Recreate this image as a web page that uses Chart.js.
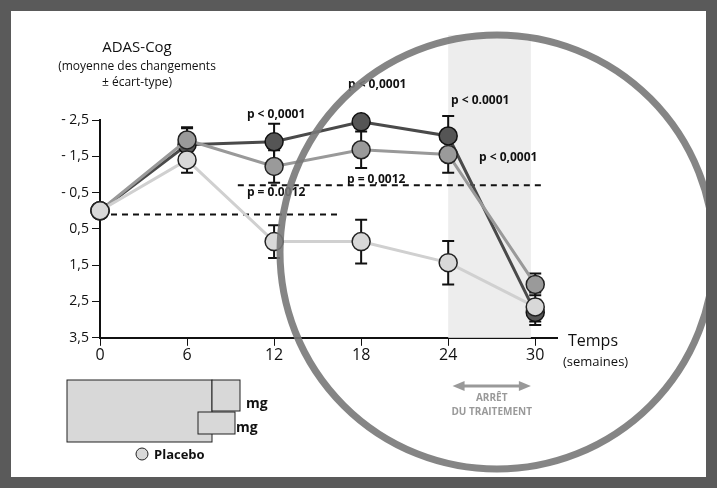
<!DOCTYPE html>
<html><head><meta charset="utf-8">
<script src="https://cdn.jsdelivr.net/npm/chart.js@4/dist/chart.umd.min.js"></script>
<style>
html,body{margin:0;padding:0;background:#5a5a5a}
#wrap{position:absolute;left:11px;top:11px;width:695px;height:466px;background:#fff}
canvas{display:block}
</style></head><body>
<div id="wrap"><canvas id="chart" width="695" height="466"></canvas></div>
<script>
const weeks = [0, 6, 12, 18, 24, 30]
const xTicks = [0, 6, 12, 18, 24, 30]
const yTicks = [-2.5, -1.5, -0.5, 0.5, 1.5, 2.5, 3.5]
const yTickLabels = ['- 2,5', '- 1,5', '- 0,5', '0,5', '1,5', '2,5', '3,5']
const doseHigh = [0, -1.82, -1.9, -2.45, -2.06, 2.8]
const doseHighErr = [0, 0.45, 0.5, 0, 0.55, 0.35]
const doseLow = [0, -1.95, -1.22, -1.68, -1.55, 2.03]
const doseLowErr = [0, 0.35, 0.45, 0.5, 0.5, 0.3]
const placebo = [0, -1.4, 0.85, 0.85, 1.43, 2.65]
const placeboErr = [0, 0.35, 0.45, 0.6, 0.6, 0.4]

const O = 11 // offset of canvas in page
const chartPlugin = {
    id: 'extras',
    beforeDatasetsDraw(chart) {
        const c = chart.ctx, x = chart.scales.x, y = chart.scales.y
        // shaded stop period
        c.save()
        c.fillStyle = '#ededed'
        c.fillRect(x.getPixelForValue(24), 35 - O, x.getPixelForValue(29.7) - x.getPixelForValue(24), y.bottom - 35 + O)
        // dashed reference lines
        c.strokeStyle = '#111'; c.lineWidth = 2; c.setLineDash([6, 5])
        c.beginPath()
        c.moveTo(x.getPixelForValue(0), y.getPixelForValue(0.1)); c.lineTo(x.getPixelForValue(16.5), y.getPixelForValue(0.1))
        c.moveTo(x.getPixelForValue(9.5), y.getPixelForValue(-0.7)); c.lineTo(x.getPixelForValue(30.5), y.getPixelForValue(-0.7))
        c.stroke()
        c.setLineDash([])
        // error bars
        c.strokeStyle = '#111'; c.lineWidth = 2
        chart.data.datasets.forEach(ds => {
            ds.data.forEach((p, j) => {
                const e = ds.err[j]
                if (!e) return
                const px = x.getPixelForValue(p.x)
                const t = y.getPixelForValue(p.y - e), b = y.getPixelForValue(p.y + e)
                c.beginPath()
                c.moveTo(px, t); c.lineTo(px, b)
                c.moveTo(px - 6, t); c.lineTo(px + 6, t)
                c.moveTo(px - 6, b); c.lineTo(px + 6, b)
                c.stroke()
            })
        })
        c.restore()
    },
    afterDraw(chart) {
        const c = chart.ctx, x = chart.scales.x, y = chart.scales.y
        c.save()
        c.fillStyle = '#111'
        c.textAlign = 'center'
        c.font = '15px "Open Sans"'
        c.fillText('ADAS-Cog', 137 - O, 52 - O)
        c.font = '12px "Open Sans"'
        c.fillText('(moyenne des changements', 137 - O, 70 - O)
        c.fillText('± écart-type)', 137 - O, 86 - O)
        c.font = 'bold 12px "Open Sans"'
        c.fillText('p < 0,0001', x.getPixelForValue(12) + 2, 118 - O)
        c.fillText('p < 0,0001', x.getPixelForValue(18) + 16, 88 - O)
        c.fillText('p < 0.0001', x.getPixelForValue(24) + 32, 104 - O)
        c.fillText('p < 0,0001', x.getPixelForValue(24) + 60, 161 - O)
        c.fillText('p = 0.0012', x.getPixelForValue(12) + 2, 196 - O)
        c.fillText('p = 0,0012', x.getPixelForValue(18) + 15, 183 - O)
        // x axis title
        c.textAlign = 'left'
        c.font = '16px "Open Sans"'
        c.fillText('Temps', 568 - O, 346 - O)
        c.font = '13px "Open Sans"'
        c.fillText('(semaines)', 563 - O, 366 - O)
        // stop-of-treatment arrow
        const a = x.getPixelForValue(24.3), b = x.getPixelForValue(29.7), ay = 386 - O
        c.strokeStyle = '#999'; c.fillStyle = '#999'; c.lineWidth = 3
        c.beginPath(); c.moveTo(a + 8, ay); c.lineTo(b - 8, ay); c.stroke()
        c.beginPath(); c.moveTo(a, ay); c.lineTo(a + 12, ay - 5); c.lineTo(a + 12, ay + 5); c.fill()
        c.beginPath(); c.moveTo(b, ay); c.lineTo(b - 12, ay - 5); c.lineTo(b - 12, ay + 5); c.fill()
        c.textAlign = 'center'
        c.font = 'bold 10px "Open Sans"'
        c.fillText('ARRÊT', (a + b) / 2, 401 - O)
        c.fillText('DU TRAITEMENT', (a + b) / 2, 415 - O)
        // legend boxes
        c.fillStyle = '#d8d8d8'; c.strokeStyle = '#222'; c.lineWidth = 1
        c.fillRect(67 - O, 380 - O, 145, 62); c.strokeRect(67 - O, 380 - O, 145, 62)
        c.fillRect(212 - O, 380 - O, 28, 31); c.strokeRect(212 - O, 380 - O, 28, 31)
        c.fillRect(198 - O, 412 - O, 37, 22); c.strokeRect(198 - O, 412 - O, 37, 22)
        c.fillStyle = '#111'; c.textAlign = 'left'
        c.font = 'bold 14px "Open Sans"'
        c.fillText('mg', 246 - O, 408 - O)
        c.fillText('mg', 236 - O, 432 - O)
        c.beginPath(); c.arc(142 - O, 454 - O, 6, 0, 7)
        c.fillStyle = '#d8d8d8'; c.fill(); c.stroke()
        c.fillStyle = '#111'; c.font = 'bold 13px "Open Sans"'
        c.fillText('Placebo', 154 - O, 459 - O)
        // magnifier circle
        c.strokeStyle = 'rgba(120,120,120,0.9)'; c.lineWidth = 7
        c.beginPath(); c.arc(497 - O, 252 - O, 217, 0, Math.PI * 2); c.stroke()
        c.restore()
    }
}

const ctx = document.getElementById('chart').getContext('2d')
Chart.defaults.font.family = '"Open Sans"'
Chart.defaults.color = '#111'
const xy = arr => arr.map((v, i) => ({ x: weeks[i], y: v }))
new Chart(ctx, {
    type: 'line',
    data: {
        datasets: [{
            label: 'Placebo',
            data: xy(placebo),
            err: placeboErr,
            borderColor: '#d0d0d0',
            backgroundColor: '#d8d8d8',
            pointBorderColor: '#222',
            borderWidth: 3,
            pointRadius: 9,
            pointBorderWidth: 1.5,
            clip: false
        }, {
            label: 'basse dose',
            data: xy(doseLow),
            err: doseLowErr,
            borderColor: '#999',
            backgroundColor: '#9a9a9a',
            pointBorderColor: '#222',
            borderWidth: 3,
            pointRadius: 9,
            pointBorderWidth: 1.5,
            clip: false
        }, {
            label: 'haute dose',
            data: xy(doseHigh),
            err: doseHighErr,
            borderColor: '#4a4a4a',
            backgroundColor: '#555',
            pointBorderColor: '#111',
            borderWidth: 3,
            pointRadius: 9,
            pointBorderWidth: 1.5,
            clip: false
        }]
    },
    options: {
        responsive: false,
        animation: false,
        layout: { padding: { left: 0, right: 149, top: 109, bottom: 112 } },
        plugins: { legend: { display: false }, tooltip: { enabled: false } },
        scales: {
            x: {
                type: 'linear', min: 0, max: 31.5,
                afterBuildTicks: s => { s.ticks = xTicks.map(v => ({ value: v })) },
                grid: { drawOnChartArea: false, tickLength: 8, color: '#111' },
                border: { color: '#111', width: 2 },
                ticks: { font: { size: 16 }, padding: 0, maxRotation: 0 }
            },
            y: {
                type: 'linear', min: -2.5, max: 3.5, reverse: true,
                afterBuildTicks: s => { s.ticks = yTicks.map(v => ({ value: v })) },
                afterFit: s => { s.width = 89 },
                grid: { drawOnChartArea: false, tickLength: 8, color: '#111' },
                border: { color: '#111', width: 2 },
                ticks: { font: { size: 14 }, callback: (v, i) => yTickLabels[i] }
            }
        }
    },
    plugins: [chartPlugin]
});
</script>
</body></html>
